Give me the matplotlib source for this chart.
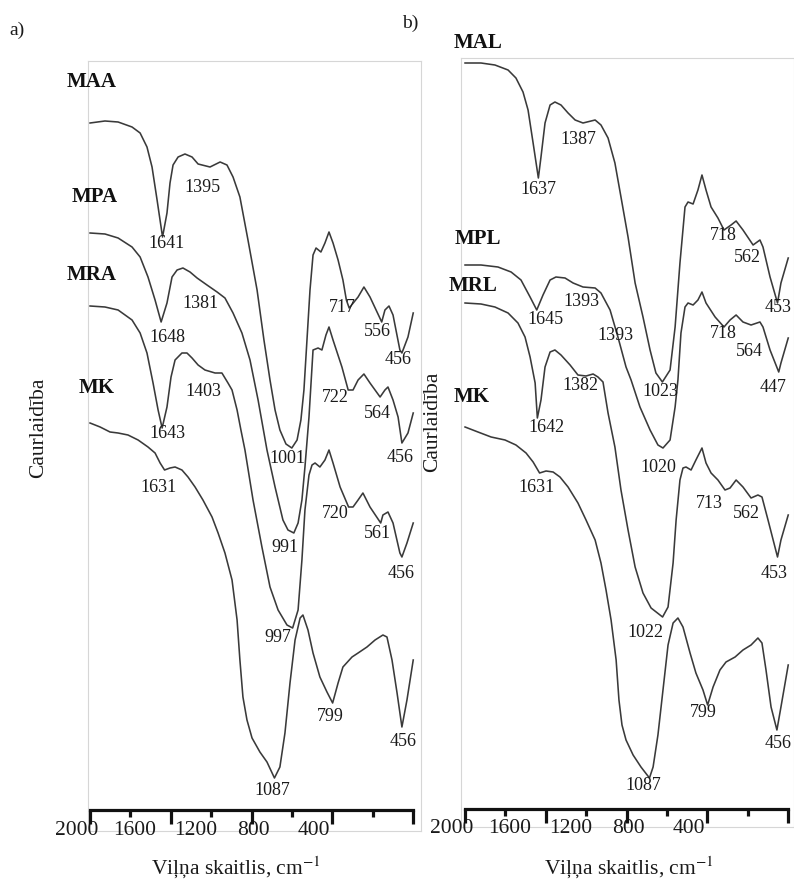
import matplotlib
matplotlib.use("Agg")
import matplotlib.pyplot as plt

plt.rcParams["font.family"] = ["Liberation Serif", "DejaVu Serif"]
plt.rcParams["mathtext.fontset"] = "stix"

# ---------------- spectra (wavenumber, cm-1 ; transmittance, arb. units) ----------------
# panel a
maa_wn = [2000, 1926, 1861, 1792, 1752, 1718, 1693, 1668, 1641, 1619, 1604, 1589, 1564, 1530,
          1495, 1465, 1406, 1356, 1322, 1292, 1258, 1218, 1173, 1139, 1109, 1084, 1060, 1030,
          1001, 975, 956, 941, 926, 911, 896, 881, 857, 837, 817, 797, 772, 748, 731, 717,
          673, 644, 614, 556, 540, 520, 500, 466, 456, 426, 400]
maa_t = [708, 710, 709, 704, 698, 684, 664, 631, 594, 618, 648, 666, 674, 677,
         674, 667, 664, 669, 666, 654, 634, 591, 541, 491, 451, 421, 401, 387,
         383, 391, 411, 441, 491, 541, 576, 583, 579, 588, 599, 588, 571, 551, 531, 523,
         534, 544, 534, 509, 521, 525, 516, 481, 478, 494, 518]

mpa_wn = [2000, 1926, 1861, 1792, 1752, 1713, 1678, 1648, 1619, 1594, 1569, 1540, 1505, 1470,
          1421, 1371, 1332, 1292, 1248, 1208, 1168, 1124, 1084, 1045, 1020, 991, 970, 951,
          936, 916, 896, 871, 852, 832, 817, 797, 753, 722, 698, 673, 644, 614, 564, 540,
          525, 500, 475, 456, 426, 400]
mpa_t = [598, 597, 593, 584, 574, 554, 531, 509, 528, 554, 561, 563, 559, 553,
         546, 539, 533, 518, 498, 471, 431, 381, 344, 311, 301, 298, 308, 331,
         364, 414, 481, 483, 481, 496, 504, 491, 464, 441, 441, 451, 457, 448, 434, 441,
         444, 431, 414, 388, 398, 418]

mra_wn = [2000, 1926, 1861, 1792, 1752, 1718, 1688, 1663, 1643, 1619, 1599, 1579, 1545, 1520,
          1495, 1465, 1431, 1381, 1347, 1317, 1297, 1272, 1253, 1233, 1193, 1149, 1109, 1069,
          1025, 997, 970, 951, 936, 916, 901, 886, 862, 837, 817, 797, 762, 720, 698, 673,
          649, 614, 561, 550, 525, 500, 466, 456, 431, 400]
mra_t = [525, 524, 521, 511, 498, 478, 448, 421, 403, 424, 454, 471, 478, 478,
         473, 466, 461, 458, 458, 448, 441, 421, 401, 381, 331, 284, 244, 221,
         206, 203, 221, 271, 321, 356, 366, 368, 364, 371, 381, 368, 344, 324, 324, 331,
         338, 324, 308, 316, 319, 308, 278, 274, 288, 308]

mka_wn = [2000, 1950, 1901, 1861, 1812, 1762, 1713, 1678, 1653, 1631, 1604, 1579, 1545, 1515,
          1480, 1441, 1396, 1366, 1332, 1297, 1272, 1258, 1243, 1223, 1198, 1159, 1124, 1087,
          1060, 1035, 1010, 985, 960, 946, 921, 896, 862, 827, 799, 772, 748, 703, 673,
          629, 589, 550, 530, 505, 480, 456, 431, 400]
mka_t = [408, 404, 399, 398, 396, 391, 384, 378, 368, 361, 363, 364, 361, 354,
         344, 331, 314, 298, 278, 251, 211, 171, 134, 111, 93, 79, 69, 53,
         64, 98, 148, 191, 213, 216, 201, 178, 154, 139, 128, 148, 164, 174, 178,
         184, 191, 196, 194, 171, 138, 104, 131, 171]

# panel b
mal_wn = [2000, 1921, 1852, 1787, 1748, 1713, 1688, 1663, 1637, 1624, 1604, 1579, 1555, 1525,
          1490, 1455, 1416, 1376, 1356, 1327, 1292, 1258, 1228, 1193, 1158, 1119, 1084, 1055,
          1023, 985, 960, 936, 911, 896, 871, 847, 827, 807, 782, 748, 718, 683, 658, 624,
          574, 540, 525, 490, 453, 436, 400]
mal_t = [764, 764, 762, 757, 749, 735, 717, 684, 649, 670, 704, 722, 725, 722,
         714, 707, 704, 706, 707, 702, 689, 664, 630, 590, 544, 510, 477, 454,
         445, 457, 500, 564, 620, 625, 623, 637, 652, 637, 620, 609, 597, 602, 606, 597,
         582, 587, 580, 550, 524, 544, 569]

mpl_wn = [2000, 1921, 1837, 1772, 1723, 1678, 1645, 1614, 1579, 1550, 1505, 1465, 1416, 1356,
          1327, 1282, 1243, 1203, 1178, 1134, 1084, 1045, 1020, 985, 960, 946, 931, 911,
          896, 871, 847, 827, 807, 762, 718, 688, 658, 624, 584, 540, 525, 490, 447, 436, 400]
mpl_t = [562, 562, 560, 555, 547, 530, 517, 532, 547, 550, 549, 544, 540, 539,
         534, 517, 490, 460, 447, 420, 397, 382, 379, 387, 420, 447, 494, 520,
         524, 522, 527, 535, 524, 510, 500, 507, 512, 505, 502, 505, 500, 477, 455, 464, 489]

mrl_wn = [2000, 1921, 1852, 1787, 1738, 1703, 1678, 1653, 1642, 1624, 1604, 1579, 1555, 1525,
          1480, 1441, 1401, 1366, 1342, 1317, 1292, 1258, 1228, 1193, 1158, 1119, 1079, 1022,
          995, 970, 955, 936, 921, 906, 881, 857, 827, 807, 782, 748, 713, 688, 658, 624,
          584, 550, 530, 500, 453, 436, 400]
mrl_t = [524, 523, 520, 514, 504, 490, 470, 444, 409, 427, 460, 475, 477, 472,
         462, 452, 451, 453, 450, 445, 414, 380, 337, 297, 260, 234, 219, 210,
         220, 264, 307, 347, 359, 360, 357, 367, 379, 364, 354, 347, 337, 339, 347, 340,
         329, 332, 330, 307, 270, 287, 312]

mkb_wn = [2000, 1936, 1871, 1802, 1748, 1698, 1663, 1631, 1599, 1564, 1530, 1490, 1441, 1401,
          1356, 1327, 1302, 1277, 1252, 1238, 1223, 1203, 1168, 1129, 1087, 1069, 1045, 1020,
          995, 970, 946, 921, 886, 857, 822, 799, 772, 738, 708, 663, 624, 584, 550, 530,
          510, 485, 456, 436, 400]
mkb_t = [400, 395, 390, 387, 382, 374, 365, 354, 356, 355, 350, 340, 324, 307,
         287, 264, 237, 207, 167, 127, 102, 87, 72, 60, 49, 60, 92, 137,
         182, 204, 209, 200, 174, 154, 137, 122, 140, 157, 165, 170, 177, 182, 189, 184,
         157, 120, 97, 120, 162]

# ---------------- peak annotations: (text, wavenumber position, transmittance position) ----------------
peaks_a = [("1641", 1619, 588), ("1395", 1441, 644), ("1648", 1619, 494), ("1381", 1451, 527),
           ("1643", 1619, 397), ("1403", 1441, 439), ("1631", 1663, 344), ("717", 753, 523),
           ("556", 579, 500), ("456", 475, 471), ("722", 787, 433), ("564", 579, 418),
           ("456", 466, 374), ("1001", 1025, 373), ("720", 787, 318), ("561", 579, 297),
           ("456", 461, 257), ("991", 1035, 284), ("997", 1069, 193), ("799", 812, 115),
           ("456", 451, 90), ("1087", 1099, 41)]
peaks_b = [("1637", 1639, 637), ("1387", 1441, 688), ("718", 723, 592), ("562", 604, 570),
           ("453", 451, 519), ("1645", 1604, 508), ("1393", 1426, 525), ("1393", 1253, 492),
           ("1023", 1035, 436), ("718", 723, 494), ("564", 594, 476), ("447", 475, 440),
           ("1642", 1599, 399), ("1382", 1431, 441), ("1631", 1644, 340), ("1020", 1045, 360),
           ("713", 792, 324), ("562", 609, 314), ("453", 470, 254), ("1022", 1109, 195),
           ("799", 822, 115), ("456", 451, 84), ("1087", 1119, 42)]

names_a = [("MAA", 1990, 749), ("MPA", 1975, 634), ("MRA", 1990, 556), ("MK", 1965, 443)]
names_b = [("MAL", 1936, 784), ("MPL", 1936, 588), ("MRL", 1960, 541), ("MK", 1965, 430)]

tick_values = [2000, 1600, 1200, 800, 400]
minor_tick_values = [1800, 1400, 1000, 600]
tick_labels = ["2000", "1600", "1200", "800", "400"]
tick_label_pos = [2066, 1777, 1478, 1190, 893]

# ---------------- layout ----------------
W, H = 794, 880
fig = plt.figure(figsize=(W / 100, H / 100), dpi=100)


def box(l, t, r, b):
    return [l / W, 1 - b / H, (r - l) / W, (b - t) / H]


LINE = "#3a3a3a"
TXT = "#1a1a1a"

panels = [
    dict(frame=(88, 61, 421, 831), xlim=(2010, 361.5), ylim=(0, 770),
         axis=(90, 810, 413), lbl_y=1,
         curves=[(maa_wn, maa_t), (mpa_wn, mpa_t), (mra_wn, mra_t), (mka_wn, mka_t)],
         peaks=peaks_a, names=names_a, xlabel_x=236, ylabel_xy=(39, 428)),
    dict(frame=(461, 58, 794, 827), xlim=(2020, 371.4), ylim=(0, 769),
         axis=(465, 809, 788), lbl_y=-1,
         curves=[(mal_wn, mal_t), (mpl_wn, mpl_t), (mrl_wn, mrl_t), (mkb_wn, mkb_t)],
         peaks=peaks_b, names=names_b, xlabel_x=629, ylabel_xy=(433, 422)),
]

for p in panels:
    ax = fig.add_axes(box(*p["frame"]))
    ax.set_xlim(*p["xlim"])
    ax.set_ylim(*p["ylim"])
    ax.set_xticks([])
    ax.set_yticks([])
    for s in ax.spines.values():
        s.set_color("#d6d6d6")
        s.set_linewidth(0.8)

    for wn, t in p["curves"]:
        ax.plot(wn, t, color=LINE, lw=1.15, solid_joinstyle="round")

    for s, x, y in p["peaks"]:
        ax.text(x, y, s, ha="center", va="center", fontsize=13, color=TXT)
    for s, x, y in p["names"]:
        ax.text(x, y, s, ha="center", va="center", fontsize=15, fontweight="bold", color="#111111")

    # thick wavenumber axis
    l, yax, r = p["axis"]
    axx = fig.add_axes([l / W, 1 - yax / H, (r - l) / W, 1e-4])
    axx.set_xlim(2000, 400)
    axx.patch.set_visible(False)
    for side in ("top", "left", "right"):
        axx.spines[side].set_visible(False)
    axx.spines["bottom"].set_linewidth(2.3)
    axx.spines["bottom"].set_color("#111111")
    axx.set_yticks([])
    axx.set_xticks(tick_values)
    axx.set_xticks(minor_tick_values, minor=True)
    axx.tick_params(axis="x", which="major", direction="out", length=10, width=2.3,
                    color="#111111", labelbottom=False)
    axx.tick_params(axis="x", which="minor", direction="out", length=5, width=2.3,
                    color="#111111", labelbottom=False)

    for s, x in zip(tick_labels, tick_label_pos):
        ax.text(x, p["lbl_y"], s, ha="center", va="center", fontsize=15.5, color=TXT)

    fig.text(p["xlabel_x"] / W, 1 - 868 / H, "Viļņa skaitlis, cm$^{-1}$",
             ha="center", va="center", fontsize=15.5, color=TXT)
    yx, yy = p["ylabel_xy"]
    fig.text(yx / W, 1 - yy / H, "Caurlaidība", rotation=90,
             ha="center", va="center", fontsize=15.5, color=TXT)

fig.text(17 / W, 1 - 30 / H, "a)", ha="center", va="center", fontsize=14, color=TXT)
fig.text(410 / W, 1 - 23 / H, "b)", ha="center", va="center", fontsize=14, color=TXT)

fig.savefig("out.png", dpi=100, facecolor="white")
